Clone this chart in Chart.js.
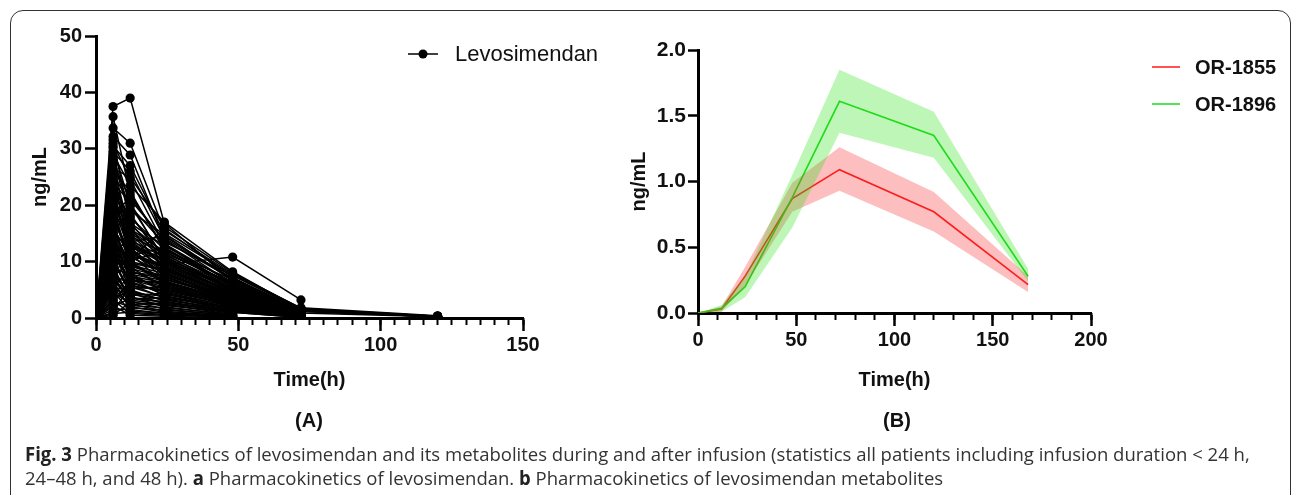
<!DOCTYPE html>
<html><head><meta charset="utf-8">
<script src="https://cdn.jsdelivr.net/npm/chart.js@4.4.1/dist/chart.umd.min.js"></script>
<style>
html,body{margin:0;padding:0;background:#fff;}
body{width:1293px;height:495px;position:relative;overflow:hidden;font-family:"Liberation Sans",Arial,sans-serif;}
#frame{position:absolute;left:10px;top:10px;width:1281px;height:540px;border:1.5px solid #333;border-radius:13px;box-sizing:border-box;}
canvas{position:absolute;top:0;}
#cA{left:0;}
#cB{left:600px;}
.panel{position:absolute;top:420px;font-weight:bold;font-size:20px;color:#111;transform:translate(-50%,-50%);white-space:nowrap;}
.legtxt{position:absolute;color:#111;white-space:nowrap;transform:translateY(-50%);}
.cap{position:absolute;left:25px;font-family:"Open Sans",sans-serif;font-size:19px;color:#333;white-space:nowrap;transform-origin:0 50%;line-height:24px;}
.cap b{color:#222;}
svg{position:absolute;left:0;top:0;}
</style></head>
<body>
<div id="frame"></div>
<canvas id="cA" width="600" height="400"></canvas>
<canvas id="cB" width="693" height="400"></canvas>
<svg width="1293" height="495">
  <line x1="408" y1="54" x2="438" y2="54" stroke="#000" stroke-width="1.5"/>
  <circle cx="423" cy="54" r="4.5" fill="#000"/>
  <line x1="1152" y1="67" x2="1180" y2="67" stroke="#ff1a1a" stroke-width="1.5"/>
  <line x1="1152" y1="104" x2="1180" y2="104" stroke="#1ed81e" stroke-width="1.5"/>
</svg>
<div class="legtxt" style="left:455px;top:54px;font-size:22px;">Levosimendan</div>
<div class="legtxt" style="left:1195px;top:67px;font-size:20px;font-weight:bold;">OR-1855</div>
<div class="legtxt" style="left:1195px;top:104px;font-size:20px;font-weight:bold;">OR-1896</div>
<div class="panel" style="left:309px;">(A)</div>
<div class="panel" style="left:897px;">(B)</div>
<div class="cap" id="cap1" style="top:442px;"><b>Fig. 3</b> Pharmacokinetics of levosimendan and its metabolites during and after infusion (statistics all patients including infusion duration &lt; 24 h,</div>
<div class="cap" id="cap2" style="top:466px;">24–48 h, and 48 h). <b>a</b> Pharmacokinetics of levosimendan. <b>b</b> Pharmacokinetics of levosimendan metabolites</div>
<script>
// ---------- Panel A: individual levosimendan concentrations (ng/mL), one entry per patient ----------
const timesA = [0, 6, 12, 24, 48, 72, 120];
const conc0h = [0,0,0,0,0,0,0,0,0,0, 0,0,0,0,0,0,0,0,0,0, 0,0,0,0,0,0,0,0,0,0, 0,0,0,0,0,0,0,0,0,0,
                0,0,0,0,0,0,0,0,0,0, 0,0,0,0,0,0,0,0,0,0, 0,0,0,0,0,0,0,0,0,0, 0,0,0,0,0,0,0,0,0,0,
                0,0,0,0,0,0,0,0,0,0, 0,0,0,0,0,0,0,0,0,0];
const conc6h = [37.5,35.7,33.7,32.2,31.0,30.2,29.0,28.0,27.2,26.0, 25.6,25.0,24.0,23.1,22.0,21.2,20.5,20.0,19.0,18.6,
                18.0,17.1,16.5,16.0,15.4,15.0,14.6,14.0,13.4,13.0, 12.6,12.0,11.4,11.0,10.6,10.0,9.4,9.0,8.6,8.0,
                7.4,7.0,6.6,6.0,5.4,5.0,4.6,4.0,3.4,3.0, 2.6,2.0,1.5,1.0,0.8,0.5,26.5,28.5,24.5,22.5,
                19.5,17.5,15.8,13.8,12.2,10.8,9.2,7.8,6.2,4.8, 3.2,2.2,30.5,27.5,23.5,21.5,20.8,18.8,16.8,14.8,
                29.5,25.8,22.8,20.2,17.8,15.2,12.8,11.2,9.8,8.4, 6.8,5.2,31.6,27.8,24.8,19.8,16.2,13.2,10.2,7.2];
const conc12h = [39.0,22.0,31.0,28.9,24.6,20.0,23.5,18.0,15.0,22.5, 14.0,12.5,20.5,10.0,17.0,13.5,16.0,11.5,9.0,14.5,
                21.5,12.0,8.0,11.0,18.5,7.0,13.0,9.5,6.0,12.8, 10.5,5.0,14.2,8.5,11.8,4.5,10.2,7.5,12.2,3.8,
                9.8,6.5,13.8,3.0,8.8,5.5,2.5,7.8,4.8,2.0, 6.8,3.5,1.5,5.8,1.0,2.8,25.0,19.0,16.8,11.2,
                15.5,10.8,9.2,7.2,6.2,4.2,3.2,2.2,1.8,1.2, 0.8,0.5,27.0,21.0,17.8,15.2,12.8,10.0,8.2,6.8,
                26.0,19.8,15.8,13.2,11.4,9.8,8.0,6.6,5.2,4.0, 3.4,2.4,16.5,13.0,11.6,9.4,7.4,5.6,4.4,3.6];
const conc24h = [16.8,12.5,15.5,14.0,13.0,10.5,17.0,11.0,9.0,12.0, 8.0,7.5,10.0,6.5,9.5,14.5,8.5,6.0,5.5,11.5,
                13.5,7.0,4.5,12.5,9.8,4.0,10.2,6.8,3.5,8.8, 15.8,3.0,9.2,5.8,7.8,2.5,11.8,5.0,8.2,2.0,
                6.2,4.2,10.8,1.6,7.2,3.8,1.2,6.6,3.2,1.0, 5.2,2.8,0.8,4.8,0.6,2.2,16.2,14.8,12.8,9.0,
                11.2,8.0,7.4,5.5,4.6,3.3,2.4,1.8,1.4,0.9, 0.5,0.3,15.0,13.8,12.2,10.6,9.6,8.6,6.9,6.0,
                14.2,13.2,11.8,10.4,9.4,8.4,7.6,6.4,5.6,4.4, 3.6,2.6,11.4,9.9,8.9,7.9,6.3,5.0,3.9,2.9];
const conc48h = [6.5,5.0,7.8,6.0,5.5,4.2,8.2,4.8,3.5,6.8, 3.0,2.8,5.2,2.5,10.8,7.0,4.0,2.2,2.0,6.2,
                7.5,3.2,1.5,5.8,4.5,1.2,5.0,3.8,1.0,4.2, 7.2,0.8,4.6,2.6,3.6,0.6,6.0,2.4,3.9,0.5,
                3.0,1.8,5.4,0.4,3.4,1.6,0.3,3.1,1.4,0.2, 2.7,1.2,0.1,2.3,0.1,1.0,8.0,6.6,6.4,4.4,
                5.6,3.7,3.3,2.5,2.0,1.4,0.9,0.7,0.5,0.3, 0.2,0.0,7.6,6.9,5.9,5.3,4.9,4.1,3.5,2.9,
                7.0,6.1,5.7,5.1,4.7,4.3,3.7,3.2,2.8,2.1, 1.7,1.1,5.0,4.6,3.9,3.4,2.9,2.3,1.8,1.3];
const conc72h = [1.2,0.9,1.8,1.1,1.0,0.7,1.5,0.8,0.6,1.3, 0.5,null,0.9,0.4,3.2,1.4,0.7,0.3,null,1.2,
                1.6,0.6,0.2,1.0,0.8,null,0.9,0.6,0.1,0.7, 1.3,null,0.8,0.4,0.6,null,1.1,0.4,0.7,null,
                0.5,0.3,1.0,null,0.6,0.2,null,0.5,0.2,null, 0.4,null,null,0.4,null,0.1,1.7,1.2,1.2,0.7,
                1.0,0.6,0.5,0.4,0.3,0.2,null,null,null,null, null,null,1.5,1.3,1.1,1.0,0.9,0.8,0.6,0.5,
                1.4,1.1,1.0,0.9,0.8,0.7,0.6,0.5,0.5,0.4, 0.3,0.2,0.9,0.8,0.6,0.5,0.4,0.3,0.3,0.2];
const conc120h = [0.3,null,0.4,null,null,null,0.3,null,null,0.2, null,null,null,null,null,0.3,null,null,null,0.2,
                0.3,null,null,null,null,null,null,null,null,null, 0.2,null,null,null,null,null,null,null,null,null,
                null,null,null,null,null,null,null,null,null,null, null,null,null,null,null,null,0.3,0.2,null,null,
                null,null,null,null,null,null,null,null,null,null, null,null,0.3,0.2,null,null,null,null,null,null,
                null,null,null,0.2,null,null,null,null,null,null, null,null,null,null,null,null,null,null,null,null];
const levoTicksX = [0, 50, 100, 150];
const levoTicksY = [0, 10, 20, 30, 40, 50];

// ---------- Panel B: metabolites, mean with band (ng/mL) ----------
const timesB = [0, 12, 24, 48, 72, 120, 168];
const or1855Mean  = [0, 0.03, 0.28, 0.87, 1.09, 0.77, 0.215];
const or1855Upper = [0, 0.05, 0.35, 0.99, 1.26, 0.92, 0.28];
const or1855Lower = [0, 0.01, 0.21, 0.77, 0.93, 0.62, 0.16];
const or1896Mean  = [0, 0.035, 0.20, 0.88, 1.61, 1.35, 0.28];
const or1896Upper = [0, 0.06, 0.28, 1.05, 1.85, 1.53, 0.335];
const or1896Lower = [0, 0.01, 0.12, 0.65, 1.37, 1.18, 0.24];

const FONT = '"Liberation Sans", Arial, sans-serif';
const tickFont = {family: FONT, size: 20, weight: 'bold'};
const tickFontB = {family: FONT, size: 21, weight: 'bold'};
const titleFont = {family: FONT, size: 20, weight: 'bold'};
const INK = '#111';

// Panel A datasets
const colsA = [conc0h, conc6h, conc12h, conc24h, conc48h, conc72h, conc120h];
const dsA = [];
for (let i = 0; i < conc6h.length; i++) {
  const pts = [];
  timesA.forEach((t, k) => { const v = colsA[k][i]; if (v !== null && v !== undefined) pts.push({x: t, y: v}); });
  dsA.push({data: pts, xAxisID: 'x', yAxisID: 'y', borderColor: '#000', backgroundColor: '#000',
    borderWidth: 1.5, pointRadius: 4.6, pointBorderWidth: 0, pointBackgroundColor: '#000', tension: 0, fill: false});
}

function xyOf(times, vals) { return times.map((t, k) => ({x: t, y: vals[k]})); }

new Chart(document.getElementById('cA'), {
  type: 'line',
  data: {datasets: dsA},
  options: {
    responsive: false, animation: false, events: [],
    layout: {padding: {left: 0, top: 36, right: 77, bottom: 0}},
    plugins: {legend: {display: false}, tooltip: {enabled: false}},
    scales: {
      x: {type: 'linear', position: 'bottom', weight: 1, min: 0, max: 150,
        afterBuildTicks: s => { s.ticks = levoTicksX.map(v => ({value: v})); },
        ticks: {font: tickFont, color: INK, padding: 2, maxRotation: 0, autoSkip: false},
        grid: {drawOnChartArea: false, tickLength: 13, tickWidth: 2.5, tickColor: '#000'},
        border: {width: 3, color: '#000'},
        title: {display: true, text: 'Time(h)', font: titleFont, color: INK, padding: {top: 0, bottom: 7.6}},
        afterFit: s => { s.height = 82; }},
      xm: {type: 'linear', position: 'bottom', weight: 0, min: 0, max: 150,
        ticks: {stepSize: 5, display: false},
        grid: {drawOnChartArea: false, tickLength: 7, tickWidth: 2, tickColor: '#000'},
        border: {display: false},
        afterFit: s => { s.height = 0; }},
      y: {type: 'linear', position: 'left', min: 0, max: 50,
        afterBuildTicks: s => { s.ticks = levoTicksY.map(v => ({value: v})); },
        ticks: {font: tickFont, color: INK, padding: 3},
        grid: {drawOnChartArea: false, tickLength: 11, tickWidth: 2.5, tickColor: '#000'},
        border: {width: 3, color: '#000'},
        title: {display: true, text: 'ng/mL', font: titleFont, color: INK, padding: {top: 28, bottom: 0}},
        afterFit: s => { s.width = 96; }}
    }
  }
});

const redLine = '#ff1a1a', greenLine = '#1ed81e';
const redBand = 'rgba(245,40,40,0.30)', greenBand = 'rgba(40,225,20,0.30)';
function band(vals, color, fill) {
  return {data: xyOf(timesB, vals), xAxisID: 'x', yAxisID: 'y', borderWidth: 0, pointRadius: 0,
    borderColor: 'rgba(0,0,0,0)', backgroundColor: color, fill: fill, tension: 0};
}
function meanLine(vals, color) {
  return {data: xyOf(timesB, vals), xAxisID: 'x', yAxisID: 'y', borderWidth: 1.6, pointRadius: 0,
    borderColor: color, fill: false, tension: 0};
}

new Chart(document.getElementById('cB'), {
  type: 'line',
  data: {datasets: [
    band(or1896Upper, greenBand, false),
    band(or1896Lower, greenBand, '-1'),
    band(or1855Upper, redBand, false),
    band(or1855Lower, redBand, '-1'),
    meanLine(or1896Mean, greenLine),
    meanLine(or1855Mean, redLine)
  ]},
  options: {
    responsive: false, animation: false, events: [],
    layout: {padding: {left: 0, top: 50, right: 202, bottom: 0}},
    plugins: {legend: {display: false}, tooltip: {enabled: false}},
    scales: {
      x: {type: 'linear', position: 'bottom', weight: 1, min: 0, max: 200,
        ticks: {stepSize: 50, font: tickFont, color: INK, padding: 2, maxRotation: 0, autoSkip: false},
        grid: {drawOnChartArea: false, tickLength: 13, tickWidth: 2.5, tickColor: '#000'},
        border: {width: 3, color: '#000'},
        title: {display: true, text: 'Time(h)', font: titleFont, color: INK, padding: {top: 0, bottom: 7.6}},
        afterFit: s => { s.height = 87; }},
      xm: {type: 'linear', position: 'bottom', weight: 0, min: 0, max: 200,
        ticks: {stepSize: 10, display: false},
        grid: {drawOnChartArea: false, tickLength: 7, tickWidth: 2, tickColor: '#000'},
        border: {display: false},
        afterFit: s => { s.height = 0; }},
      y: {type: 'linear', position: 'left', min: 0, max: 2,
        ticks: {stepSize: 0.5, font: tickFontB, color: INK, padding: 2, callback: v => Number(v).toFixed(1)},
        grid: {drawOnChartArea: false, tickLength: 10, tickWidth: 2.5, tickColor: '#000'},
        border: {width: 3, color: '#000'},
        title: {display: true, text: 'ng/mL', font: titleFont, color: INK, padding: {top: 27.6, bottom: 0}},
        afterFit: s => { s.width = 98; }}
    }
  }
});

function fitCaption() {
  const c1 = document.getElementById('cap1'), c2 = document.getElementById('cap2');
  const w = c1.offsetWidth;
  const k = 1225 / w;
  c1.style.transform = 'scaleX(' + k + ')';
  c2.style.transform = 'scaleX(' + k + ')';
}
fitCaption();
if (document.fonts && document.fonts.ready) document.fonts.ready.then(fitCaption);
</script>
</body></html>
